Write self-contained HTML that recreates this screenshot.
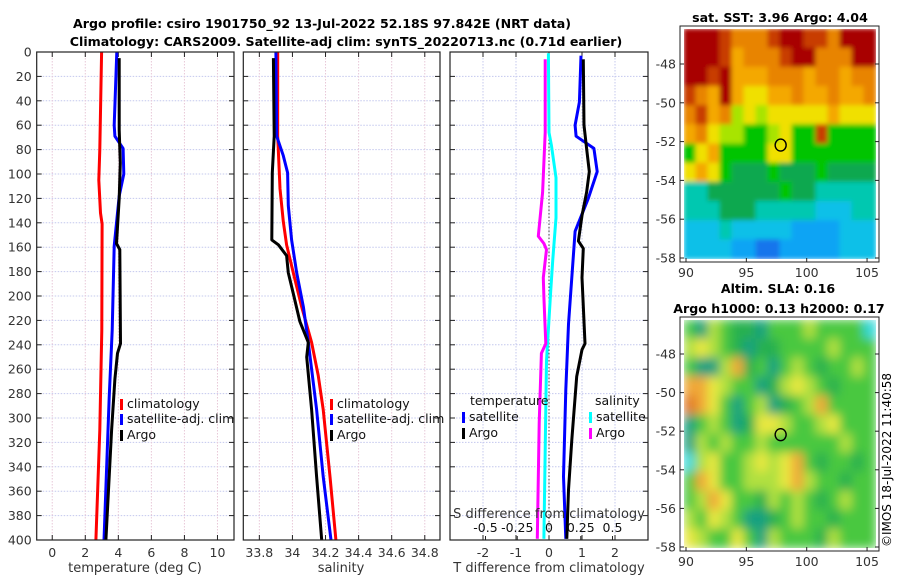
<!DOCTYPE html>
<html><head><meta charset="utf-8"><style>
html,body{margin:0;padding:0;background:#fff;}
svg{display:block;font-family:"DejaVu Sans","Liberation Sans",sans-serif;}
</style></head><body>
<svg id="fig" width="900" height="580" viewBox="0 0 900 580" xmlns="http://www.w3.org/2000/svg">
<defs>
<filter id="blur1" x="0" y="0" width="100%" height="100%"><feGaussianBlur stdDeviation="2.5"/></filter>
<filter id="blur2" x="0" y="0" width="100%" height="100%"><feGaussianBlur stdDeviation="5"/></filter>
<clipPath id="clipM1"><rect x="684" y="29" width="192" height="230"/></clipPath>
<clipPath id="clipM2"><rect x="684" y="320" width="192" height="228"/></clipPath>
</defs>
<text x="322" y="28" text-anchor="middle" font-size="12.6" font-weight="bold">Argo profile: csiro 1901750_92 13-Jul-2022 52.18S 97.842E (NRT data)</text>
<text x="346" y="46" text-anchor="middle" font-size="12.6" font-weight="bold">Climatology: CARS2009. Satellite-adj clim: synTS_20220713.nc (0.71d earlier)</text>
<g id="panels"></g>
<g id="maps"></g>
<text transform="translate(891,460) rotate(-90)" text-anchor="middle" font-size="12">©IMOS 18-Jul-2022 11:40:58</text>
</svg>
<script>
// ---- data ----
const depthTicks = [0,20,40,60,80,100,120,140,160,180,200,220,240,260,280,300,320,340,360,380,400];
// Temperature panel
const tClimDepth = [0,80,105,132,141,228,310,400];
const tClimVal   = [2.99,2.88,2.82,2.92,3.02,3.0,2.88,2.64];
const tSatDepth  = [0,60,69,79,100,118,159,228,283,400];
const tSatVal    = [3.91,3.75,3.79,4.29,4.33,4.05,3.75,3.63,3.45,3.13];
const tArgoDepth = [5,64,91,120,157,162,239,247,268,310,400];
const tArgoVal   = [4.05,4.05,4.12,4.05,3.89,4.09,4.13,3.95,3.79,3.59,3.25];
const tTicks = [0,2,4,6,8,10];
// Salinity panel
const sClimDepth = [0,69,112,139,158,181,209,238,265,293,348,400];
const sClimVal   = [33.911,33.911,33.925,33.945,33.965,34.005,34.056,34.116,34.156,34.186,34.227,34.263];
const sSatDepth  = [0,69,85,99,126,154,181,209,238,293,348,400];
const sSatVal    = [33.900,33.905,33.945,33.971,33.975,33.995,34.026,34.066,34.096,34.146,34.186,34.233];
const sArgoDepth = [5,69,99,154,158,167,181,198,221,238,250,293,348,400];
const sArgoVal   = [33.885,33.89,33.878,33.875,33.915,33.965,33.975,34.005,34.045,34.096,34.086,34.116,34.146,34.177];
const sTicks = [33.8,34,34.2,34.4,34.6,34.8];
const sTickLabels = ["33.8","34","34.2","34.4","34.6","34.8"];
// Difference panel
const dTSatDepth = [3,41,60,69,79,98,120,147,185,223,277,348,399];
const dTSatVal   = [0.97,0.92,0.79,0.82,1.36,1.46,1.19,0.79,0.69,0.59,0.51,0.44,0.51];
const dTArgoDepth= [6,60,79,98,115,134,155,161,185,239,244,266,318,359,399];
const dTArgoVal  = [1.04,1.06,1.14,1.22,1.14,1.0,0.89,1.04,1.0,1.09,1.0,0.84,0.69,0.59,0.54];
const dSSatDepth = [1,66,77,103,136,170,196,253,399];
const dSSatVal   = [-0.005,0,0.02,0.055,0.055,0.03,0.013,-0.02,-0.04];
const dSArgoDepth= [6,66,115,151,157,162,185,201,239,247,304,399];
const dSArgoVal  = [-0.03,-0.03,-0.05,-0.084,-0.04,-0.02,-0.045,-0.04,-0.025,-0.06,-0.077,-0.092];
const dTTicks = [-2,-1,0,1,2];
const dSTicks = [-0.5,-0.25,0,0.25,0.5];
const dSTickLabels = ["-0.5","-0.25","0","0.25","0.5"];
// Maps (rows top->bottom, cols west->east)
const sstRows = [
"RRRrOOOrRRrrORRR","RRRroOOOrRROOORR","RRrRoooOOOoOOoOO","rOoRoYYooOooOooO",
"OroOyYyYYYYYoYYY","oOYyyGGyYGGrGGGG","GYoGGGGYYGGGGGGG","YoYGgggGgggGgggg",
"ccggggggGggcccccc","cccgggcccccCCCcc","CCCcCCCCCBBBBCCC","CCCCBBbbBBBBBCCC"];
const slaRows = [
"GtyGggtGGGyGGGGC","yYyGgtggGGGGyGGG","GttyOgGtGyGgGGyG","OOYyGGtgyYyGgGGG",
"rOYGtGytgGyOGGGG","tGyGtgYYyGGyYGGG","tyGyGGyGGGGGGyGG","CyYGGyYyYOGgGGgG",
"GOYGGyyyYOyGGgGG","GyOYGGgyGyGgGyGG","yGYyGttgGyGGgGGG","YyGGYGtyGGGgyGGG"];
const argoLon = 97.842, argoLat = -52.18;
const lonTicks = [90,95,100,105];
const latTicks = [-48,-50,-52,-54,-56,-58];

const NS="http://www.w3.org/2000/svg";
function mk(tag,attrs,parent){const e=document.createElementNS(NS,tag);for(const k in attrs)e.setAttribute(k,attrs[k]);if(parent)parent.appendChild(e);return e;}
const P=document.getElementById('panels');
const Y0=52,Y1=540;
const yScale=d=>Y0+(d/400)*(Y1-Y0);

function panel(name,x0,x1,xmin,xmax){
  const g=mk('g',{},P);
  
  
  const xs=v=>x0+(v-xmin)/(xmax-xmin)*(x1-x0);
  return {g,xs,x0,x1};
}
function frame(p,xticks,xlabels,showY,gridColor){
  const {g,xs,x0,x1}=p;
  depthTicks.forEach(d=>{const y=yScale(d);
    if(d>0&&d<400){const l=mk('line',{x1:x0,x2:x1,y1:y,y2:y,stroke:'#c4c8ee','stroke-width':1,'stroke-dasharray':'1.5,1.5'},g);
      }
    mk('line',{x1:x0,x2:x0+5,y1:y,y2:y,stroke:'#222'},g);
    mk('line',{x1:x1-5,x2:x1,y1:y,y2:y,stroke:'#222'},g);
    if(showY){const t=mk('text',{x:x0-5,y:y+4.5,'text-anchor':'end','font-size':12.5,fill:'#333'},g);t.textContent=d;
      }
  });
  xticks.forEach((v,i)=>{const x=xs(v);
    const l=mk('line',{x1:x,x2:x,y1:Y0,y2:Y1,stroke:gridColor,'stroke-width':1,'stroke-dasharray':'1.5,1.5'},g);
    
    mk('line',{x1:x,x2:x,y1:Y1-5,y2:Y1,stroke:'#222'},g);
    mk('line',{x1:x,x2:x,y1:Y0,y2:Y0+5,stroke:'#222'},g);
    const t=mk('text',{x:x,y:Y1+17,'text-anchor':'middle','font-size':12.5,fill:'#333'},g);t.textContent=xlabels[i];
    
  });
}
function border(p){const r=mk('rect',{x:p.x0,y:Y0,width:p.x1-p.x0,height:Y1-Y0,fill:'none',stroke:'#222','stroke-width':1.2},p.g);
  }
function line(p,depths,vals,color,name,xsFn){
  const xs=xsFn||p.xs;
  const pts=depths.map((d,i)=>xs(vals[i]).toFixed(1)+','+yScale(d).toFixed(1)).join(' ');
  const l=mk('polyline',{points:pts,fill:'none',stroke:color,'stroke-width':3,'stroke-linejoin':'round'},p.g);
  
}
function legendEntry(p,x,y,color,label){
  const r=mk('rect',{x:x,y:y-9,width:3,height:11,fill:color},p.g);
  
  const t=mk('text',{x:x+7,y:y,'font-size':12.5,fill:'#111'},p.g);t.textContent=label;
  
}
function label(p,x,y,txt,name){const t=mk('text',{x:x,y:y,'text-anchor':'middle','font-size':13,fill:'#333'},p.g);t.textContent=txt;
  }

// Panel 1 temperature
const p1=panel('temperature-panel',36.7,234,-0.94,11.0);
frame(p1,tTicks,tTicks.map(String),true,'#e8c8d8');
line(p1,tClimDepth,tClimVal,'#ff0000','climatology-temperature-line');
line(p1,tSatDepth,tSatVal,'#0000ff','satellite-temperature-line');
line(p1,tArgoDepth,tArgoVal,'#000000','argo-temperature-line');
legendEntry(p1,120,408,'#ff0000','climatology');
legendEntry(p1,120,423,'#0000ff','satellite-adj. clim');
legendEntry(p1,120,439,'#000000','Argo');
border(p1);
label(p1,135,572,'temperature (deg C)','x-axis-title-temperature');

// Panel 2 salinity
const p2=panel('salinity-panel',243.3,440,33.703,34.892);
frame(p2,sTicks,sTickLabels,false,'#e8c8d8');
line(p2,sClimDepth,sClimVal,'#ff0000','climatology-salinity-line');
line(p2,sSatDepth,sSatVal,'#0000ff','satellite-salinity-line');
line(p2,sArgoDepth,sArgoVal,'#000000','argo-salinity-line');
legendEntry(p2,330,408,'#ff0000','climatology');
legendEntry(p2,330,423,'#0000ff','satellite-adj. clim');
legendEntry(p2,330,439,'#000000','Argo');
border(p2);
label(p2,341,572,'salinity','x-axis-title-salinity');

// Panel 3 differences
const p3=panel('difference-panel',450,648,-3.0,3.0);
frame(p3,dTTicks,dTTicks.map(String),false,'#c4c8ee');
const sxs=v=>549+v*127;
{const l=mk('line',{x1:549,x2:549,y1:Y0,y2:Y1,stroke:'#444','stroke-width':1,'stroke-dasharray':'1.5,2'},p3.g);
 }
line(p3,dSSatDepth,dSSatVal,'#00ffff','satellite-salinity-diff-line',sxs);
line(p3,dSArgoDepth,dSArgoVal,'#ff00ff','argo-salinity-diff-line',sxs);
line(p3,dTSatDepth,dTSatVal,'#0000ff','satellite-temperature-diff-line');
line(p3,dTArgoDepth,dTArgoVal,'#000000','argo-temperature-diff-line');
{const t=mk('text',{x:470,y:405,'font-size':12.5,fill:'#111'},p3.g);t.textContent='temperature';
 
 const t2=mk('text',{x:595,y:405,'font-size':12.5,fill:'#111'},p3.g);t2.textContent='salinity';
 }
legendEntry(p3,462,421,'#0000ff','satellite');
legendEntry(p3,462,437,'#000000','Argo');
legendEntry(p3,589,421,'#00ffff','satellite');
legendEntry(p3,589,437,'#ff00ff','Argo');
dSTicks.forEach((v,i)=>{const x=sxs(v);
  mk('line',{x1:x,x2:x,y1:Y1-4,y2:Y1,stroke:'#222'},p3.g);
  const t=mk('text',{x:x,y:Y1-8,'text-anchor':'middle','font-size':12.5,fill:'#111'},p3.g);t.textContent=dSTickLabels[i];
  });
label(p3,549,518,'S difference from climatology','s-diff-axis-title');
border(p3);
label(p3,549,572,'T difference from climatology','t-diff-axis-title');

// ---- maps ----
const M=document.getElementById('maps');
const colSST={R:'#a80000',r:'#c83c00',O:'#e88400',o:'#f4a800',Y:'#f0e000',y:'#a8e400',G:'#00c400',g:'#10a850',c:'#00c8b0',C:'#10c0e8',B:'#10a4f4',b:'#1474ec'};
const colSLA={G:'#48c840',g:'#28b050',t:'#18a080',Y:'#e8e840',y:'#b0e040',O:'#f0a838',r:'#e07828',C:'#30d8d8'};
function drawMap(name,rows,cols,x0,y0,w,h,clip,filter,lat0,latPx,title1){
  const g=mk('g',{},M);
  
  const img=mk('g',{'clip-path':'url(#'+clip+')'},g);
  const inner=mk('g',{filter:'url(#'+filter+')'},img);
  const nr=rows.length,nc=16,cw=w/nc,ch=h/nr;
  mk('rect',{x:x0,y:y0,width:w,height:h,fill:cols[rows[nr-1][0]]},inner);
  rows.forEach((row,r)=>{for(let c=0;c<nc;c++){const ch1=row[c]||row[nc-1];
    mk('rect',{x:(x0+c*cw-0.5).toFixed(1),y:(y0+r*ch-0.5).toFixed(1),width:(cw+1).toFixed(1),height:(ch+1).toFixed(1),fill:cols[ch1]||'#40c040'},inner);}});
  const lonX=v=>686+(v-90)*12.07;
  const latY=v=>lat0+(-48-v)*latPx;
  const ax=mk('rect',{x:680,y:y0-3,width:199,height:h+6,fill:'none',stroke:'#222','stroke-width':1},g);
  
  lonTicks.forEach(v=>{const x=lonX(v);mk('line',{x1:x,x2:x,y1:y0+h+3,y2:y0+h-1,stroke:'#222'},g);
    const t=mk('text',{x:x,y:y0+h+18,'text-anchor':'middle','font-size':12.5,fill:'#333'},g);t.textContent=v;
    });
  latTicks.forEach(v=>{const y=latY(v);mk('line',{x1:680,x2:684,y1:y,y2:y,stroke:'#222'},g);mk('line',{x1:875,x2:879,y1:y,y2:y,stroke:'#222'},g);
    const t=mk('text',{x:676,y:y+4.5,'text-anchor':'end','font-size':12.5,fill:'#333'},g);t.textContent=v;
    });
  const c=mk('ellipse',{cx:lonX(argoLon),cy:latY(argoLat),rx:5.5,ry:6,fill:'none',stroke:'#000','stroke-width':1.4},g);
  
  title1.forEach(tt=>{const t=mk('text',{x:tt[0],y:tt[1],'text-anchor':'middle','font-size':12.6,'font-weight':'bold'},g);t.textContent=tt[2];
    });
}
drawMap('sst-map',sstRows,colSST,684,29,192,230,'clipM1','blur1',64,19.4,[[780,22,'sat. SST: 3.96 Argo: 4.04']]);
drawMap('sla-map',slaRows,colSLA,684,320,192,228,'clipM2','blur2',354,19.3,[[778,293,'Altim. SLA: 0.16'],[779,313,'Argo h1000: 0.13 h2000: 0.17']]);
</script>
</body></html>
